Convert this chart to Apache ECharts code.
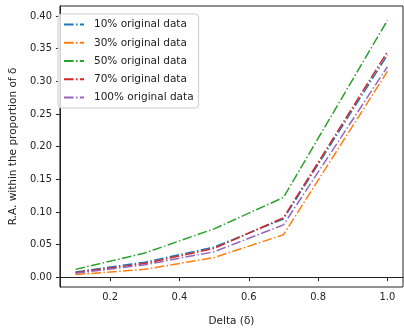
<!DOCTYPE html>
<html>
<head>
<meta charset="utf-8">
<script src="https://cdn.jsdelivr.net/npm/echarts@6/dist/echarts.min.js"></script>
<style>
  html, body { margin: 0; padding: 0; background: #fff; }
  #chart { width: 404px; height: 332px; }
</style>
</head>
<body>
<div id="chart"></div>
<script>
// delta values on the x axis
const deltas = [0.1, 0.3, 0.5, 0.7, 1.0];

const names = ["10% original data", "30% original data", "50% original data", "70% original data", "100% original data"];
const data10 = [0.008, 0.023, 0.046, 0.089, 0.340];
const data30 = [0.004, 0.012, 0.030, 0.065, 0.315];
const data50 = [0.012, 0.037, 0.074, 0.122, 0.393];
const data70 = [0.007, 0.021, 0.044, 0.091, 0.345];
const data100 = [0.006, 0.019, 0.039, 0.080, 0.322];

const xTicks = [0.2, 0.4, 0.6, 0.8, 1.0];
const yTicks = [0, 0.05, 0.1, 0.15, 0.2, 0.25, 0.3, 0.35, 0.4];

const colors = ["#1f77b4", "#ff7f0e", "#2ca02c", "#d62728", "#9467bd"];
const tickFont = "'Liberation Sans Narrow', 'DejaVu Sans Condensed', 'DejaVu Sans', sans-serif";

const chart = echarts.init(document.getElementById("chart"));

function makeSeries(name, values, i) {
  return {
    name,
    type: "line",
    data: deltas.map((x, k) => [x, values[k]]),
    symbol: "none",
    lineStyle: {
      color: colors[i],
      width: 1.5,
      type: [9.6, 2.4, 1.5, 2.4],
    },
    itemStyle: { color: colors[i] },
  };
}

const option = {
  animation: false,
  grid: {
    left: 53,
    right: 1,
    top: 6,
    bottom: 40,
    show: true,
    borderColor: "#222",
    borderWidth: 1,
  },
  legend: {
    orient: "vertical",
    left: 58,
    top: 14,
    itemWidth: 20,
    itemHeight: 14,
    itemGap: 7,
    padding: [5, 5, 5, 5],
    borderColor: "#cccccc",
    borderWidth: 1,
    borderRadius: 3,
    backgroundColor: "rgba(255,255,255,0.8)",
    itemStyle: { opacity: 0 },
    textStyle: {
      fontFamily: "DejaVu Sans",
      fontSize: 10.5,
      color: "#222",
      padding: [0, 0, 0, 5],
    },
    data: names,
  },
  xAxis: {
    type: "value",
    min: 0.055,
    max: 1.045,
    name: "Delta (δ)",
    nameLocation: "middle",
    nameGap: 29,
    nameTextStyle: { fontFamily: "DejaVu Sans", fontSize: 10.5, color: "#222" },
    splitLine: { show: false },
    axisLine: { lineStyle: { color: "#222", width: 1 } },
    axisTick: { customValues: xTicks, length: 4, lineStyle: { color: "#222" } },
    axisLabel: {
      customValues: xTicks,
      margin: 5,
      fontFamily: tickFont,
      fontSize: 11,
      color: "#222",
      formatter: (v) => v.toFixed(1),
    },
  },
  yAxis: {
    type: "value",
    min: -0.015,
    max: 0.415,
    name: "R.A. within the proportion of δ",
    nameLocation: "middle",
    nameGap: 36,
    nameRotate: 90,
    nameTextStyle: { fontFamily: "DejaVu Sans", fontSize: 10.5, color: "#222" },
    splitLine: { show: false },
    axisLine: { show: true, lineStyle: { color: "#222", width: 1 } },
    axisTick: { show: true, customValues: yTicks, length: 4, lineStyle: { color: "#222" } },
    axisLabel: {
      customValues: yTicks,
      margin: 8,
      fontFamily: tickFont,
      fontSize: 11,
      color: "#222",
      formatter: (v) => v.toFixed(2),
    },
  },
  series: [
    makeSeries(names[0], data10, 0),
    makeSeries(names[1], data30, 1),
    makeSeries(names[2], data50, 2),
    makeSeries(names[3], data70, 3),
    makeSeries(names[4], data100, 4),
  ],
};

chart.setOption(option);
</script>
</body>
</html>
